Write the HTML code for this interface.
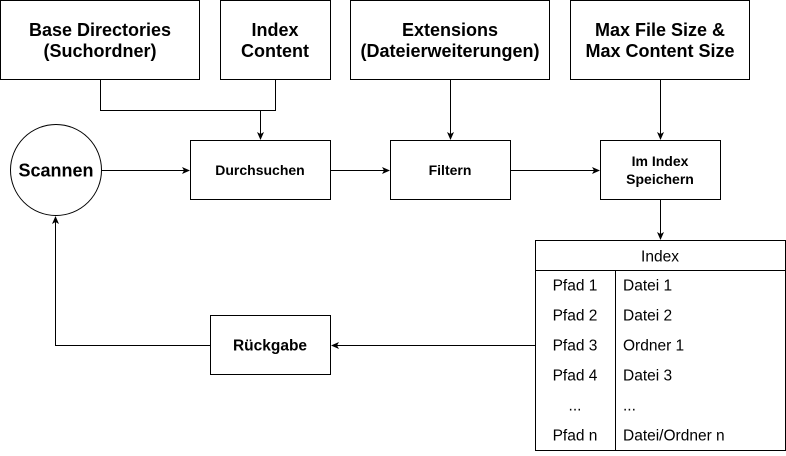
<!DOCTYPE html><html><head><style>body{margin:0;background:#fff}svg text{font-family:"Liberation Sans",Arial,sans-serif;fill:#000}</style></head><body>
<svg width="786" height="451" xmlns="http://www.w3.org/2000/svg">
<defs><marker id="a" markerWidth="8" markerHeight="8" refX="7" refY="4" orient="auto" markerUnits="userSpaceOnUse"><path d="M0,0.5 L8,4 L0,7.5 L2,4 Z" fill="#000"/></marker></defs>
<g fill="#fff" stroke="#000" stroke-width="1">
<rect x="0.5" y="0.5" width="199" height="79"/>
<rect x="220.5" y="0.5" width="110" height="79"/>
<rect x="350.5" y="0.5" width="199" height="79"/>
<rect x="570.5" y="0.5" width="179" height="79"/>
<circle cx="56" cy="170" r="45.5"/>
<rect x="190.5" y="140.5" width="140" height="59"/>
<rect x="390.5" y="140.5" width="120" height="59"/>
<rect x="600.5" y="140.5" width="120" height="59"/>
<rect x="210.5" y="315.5" width="120" height="59"/>
<rect x="535.5" y="240.5" width="250" height="210"/>
</g>
<g stroke="#000" fill="none">
<line x1="535.5" y1="270.5" x2="785.5" y2="270.5"/>
<line x1="615.5" y1="270.5" x2="615.5" y2="450.5"/>
<polyline points="100.5,80 100.5,110.5 275.5,110.5 275.5,80"/>
<line x1="260.5" y1="110.5" x2="260.5" y2="139" marker-end="url(#a)"/>
<line x1="450.5" y1="80" x2="450.5" y2="139" marker-end="url(#a)"/>
<line x1="660.5" y1="80" x2="660.5" y2="139" marker-end="url(#a)"/>
<line x1="660.5" y1="200" x2="660.5" y2="239" marker-end="url(#a)"/>
<line x1="101.5" y1="170.5" x2="189" y2="170.5" marker-end="url(#a)"/>
<line x1="331" y1="170.5" x2="389" y2="170.5" marker-end="url(#a)"/>
<line x1="511" y1="170.5" x2="599" y2="170.5" marker-end="url(#a)"/>
<line x1="535" y1="345.5" x2="332" y2="345.5" marker-end="url(#a)"/>
<polyline points="210,345.5 55.5,345.5 55.5,217" marker-end="url(#a)"/>
</g>
<g font-weight="bold" font-size="18" text-anchor="middle">
<text x="100" y="36">Base Directories</text><text x="100" y="57">(Suchordner)</text>
<text x="275" y="36">Index</text><text x="275" y="57">Content</text>
<text x="450" y="36">Extensions</text><text x="450" y="57">(Dateierweiterungen)</text>
<text x="660" y="36">Max File Size &amp;</text><text x="660" y="57">Max Content Size</text>
<text x="56" y="176.5" font-size="18">Scannen</text>
<text x="260" y="175" font-size="14">Durchsuchen</text>
<text x="450" y="175" font-size="14">Filtern</text>
<text x="660" y="166" font-size="14">Im Index</text><text x="660" y="184" font-size="14">Speichern</text>
<text x="270" y="350.5" font-size="15.5">Rückgabe</text>
</g>
<g font-size="15.5">
<text x="660" y="261.5" text-anchor="middle">Index</text>
<g text-anchor="middle">
<text x="575" y="290.5">Pfad 1</text><text x="575" y="320.5">Pfad 2</text><text x="575" y="350.5">Pfad 3</text><text x="575" y="380.5">Pfad 4</text><text x="575" y="410.5">...</text><text x="575" y="440.5">Pfad n</text>
</g>
<text x="623" y="290.5">Datei 1</text><text x="623" y="320.5">Datei 2</text><text x="623" y="350.5">Ordner 1</text><text x="623" y="380.5">Datei 3</text><text x="623" y="410.5">...</text><text x="623" y="440.5">Datei/Ordner n</text>
</g>
</svg></body></html>
